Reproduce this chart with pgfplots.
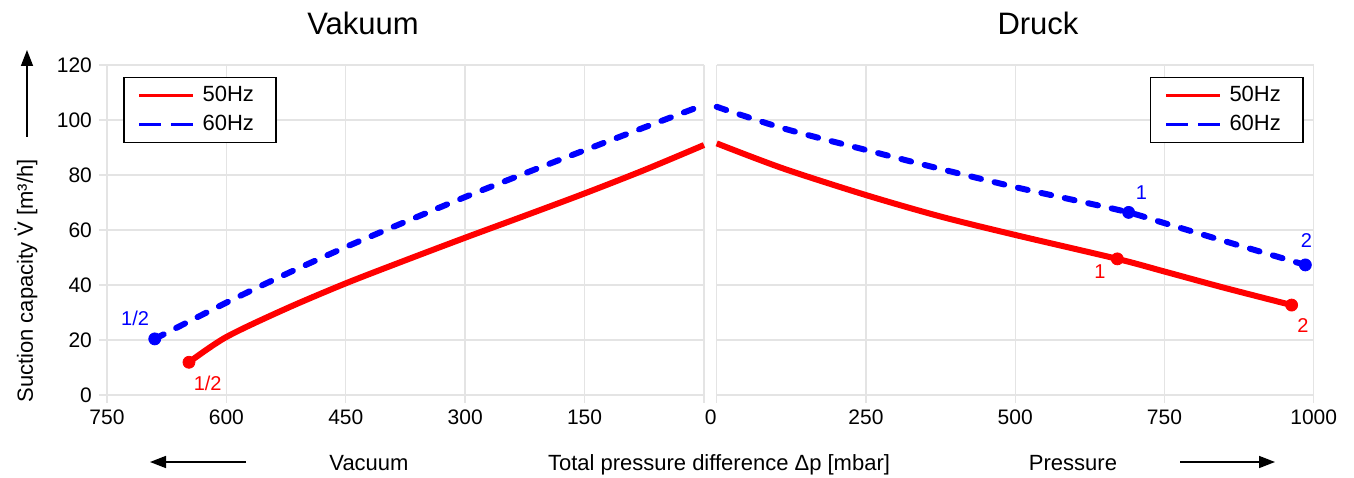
\documentclass[border=0pt]{standalone}
\usepackage{fontspec}
\setmainfont{Liberation Sans}
\usepackage{pgfplots}
\pgfplotsset{compat=1.18}
\usetikzlibrary{arrows.meta}

\definecolor{cred}{RGB}{255,0,0}
\definecolor{cblue}{RGB}{0,0,255}
\definecolor{gridgray}{RGB}{228,228,228}

\pgfplotsset{
 common/.style={
  scale only axis, width=298.5pt, height=165pt,
  ymin=0, ymax=120, ytick={0,20,...,120},
  grid=major, major grid style={gridgray, line width=0.7pt},
  axis line style={draw=none},
  tick align=outside, major tick length=4pt,
  tick style={gridgray, line width=0.7pt},
  xtick pos=bottom,
  tick label style={font=\fontsize{10.5}{12}\selectfont, black},
  /pgf/number format/assume math mode=true,
  clip=false,
  legend cell align=left,
  legend image code/.code={\draw[##1] (0pt,0pt) -- (27pt,0pt);},
  legend style={draw=black, line width=0.7pt, fill=white,
     font=\fontsize{11}{13}\selectfont, inner xsep=7pt, inner ysep=2.5pt,
     row sep=1pt, nodes={inner xsep=4pt}},
 },
}
\tikzset{
 redline/.style={cred, line width=3pt, smooth, tension=0.5},
 blueline/.style={cblue, line width=3pt, smooth, tension=0.5, line cap=round, dash pattern=on 5pt off 7pt},
 dot/.style={only marks, mark=*, mark size=3pt, mark options={draw=#1, fill=#1, solid}},
 lbl/.style={font=\fontsize{10}{12}\selectfont, text=#1},
}

\begin{document}
\begin{tikzpicture}
\path[use as bounding box] (-53.5pt,-41pt) rectangle (623.5pt,197.5pt);

% ---------------- left: Vakuum ----------------
\begin{axis}[common, at={(0pt,0pt)}, anchor=south west,
  x dir=reverse, xmin=0, xmax=750,
  xtick={0,150,300,450,600,750},
  xticklabels={,150,300,450,600,750},
  ytick pos=left,
  legend style={at={(0.027,0.964)}, anchor=north west}]
\addlegendimage{cred, line width=1.4pt}
\addlegendentry{50Hz}
\addlegendimage{cblue, line width=1.4pt, dash pattern=on 11pt off 5pt}
\addlegendentry{60Hz}

\addplot[redline, forget plot] coordinates {
 (647,11.9) (600,21.1) (525,31.4) (450,40.6) (375,49.0) (300,57.2)
 (225,65.2) (150,73.3) (75,81.8) (0,90.9)};
\addplot[blueline, forget plot] coordinates {
 (690,20.4) (600,33.6) (525,44.0) (450,53.8) (375,63.0) (300,72.0)
 (225,80.6) (150,89.0) (75,97.3) (0,105.5)};
\addplot[cred, dot=cred, forget plot] coordinates {(647,11.9)};
\addplot[cblue, dot=cblue, forget plot] coordinates {(690,20.4)};

\node[lbl=cblue, xshift=-9.85pt, yshift=10.5pt] at (axis cs:690,20.4) {1/2};
\node[lbl=cred, xshift=9.35pt, yshift=-10.35pt] at (axis cs:647,11.9) {1/2};
\end{axis}

% ---------------- right: Druck ----------------
\begin{axis}[common, at={(304.85pt,0pt)}, anchor=south west,
  xmin=0, xmax=1000,
  xtick={0,250,500,750,1000},
  xticklabels={\kern-6pt 0,250,500,750,1000},
  yticklabels={}, ytick style={draw=none},
  legend style={at={(0.983,0.964)}, anchor=north east}]
\addlegendimage{cred, line width=1.4pt}
\addlegendentry{50Hz}
\addlegendimage{cblue, line width=1.4pt, dash pattern=on 11pt off 5pt}
\addlegendentry{60Hz}

\addplot[redline, forget plot] coordinates {
 (0,91.5) (111,82.4) (250,72.7) (375,64.9) (500,58.2) (671,49.5)
 (750,44.9) (850,39.0) (963,32.7)};
\addplot[blueline, forget plot] coordinates {
 (0,104.8) (111,97) (250,89.1) (375,82.2) (500,75.6) (600,70.8)
 (690,66.4) (750,62.5) (850,56) (986,47.3)};
\addplot[cred, dot=cred, forget plot] coordinates {(671,49.5) (963,32.7)};
\addplot[cblue, dot=cblue, forget plot] coordinates {(690,66.4) (986,47.3)};

\node[lbl=cblue, xshift=6.35pt, yshift=9.65pt] at (axis cs:690,66.4) {1};
\node[lbl=cblue, xshift=0.5pt, yshift=12pt] at (axis cs:986,47.3) {2};
\node[lbl=cred, xshift=-8.65pt, yshift=-6.5pt] at (axis cs:671,49.5) {1};
\node[lbl=cred, xshift=5.65pt, yshift=-10pt] at (axis cs:963,32.7) {2};
\end{axis}

% ---------------- titles and labels ----------------
\node[anchor=base, font=\fontsize{15.5}{18}\selectfont] at (128pt,180pt) {Vakuum};
\node[anchor=base, font=\fontsize{15.5}{18}\selectfont] at (465.5pt,180pt) {Druck};

\node[anchor=base, rotate=90, font=\fontsize{11}{13}\selectfont] at (-37pt,57pt)
  {Suction capacity \.{V} [m³/h]};
\draw[line width=0.8pt, -{Triangle[length=8pt,width=6pt]}] (-40pt,129pt) -- (-40pt,172.5pt);

\node[anchor=base, font=\fontsize{11}{13}\selectfont] at (131pt,-37.5pt) {Vacuum};
\node[anchor=base, font=\fontsize{11}{13}\selectfont] at (306pt,-37.5pt) {Total pressure difference Δp [mbar]};
\node[anchor=base, font=\fontsize{11}{13}\selectfont] at (483pt,-37.5pt) {Pressure};
\draw[line width=0.8pt, -{Triangle[length=8pt,width=6pt]}] (69.5pt,-33.5pt) -- (21.5pt,-33.5pt);
\draw[line width=0.8pt, -{Triangle[length=8pt,width=6pt]}] (536.5pt,-33.5pt) -- (584pt,-33.5pt);
\end{tikzpicture}
\end{document}
